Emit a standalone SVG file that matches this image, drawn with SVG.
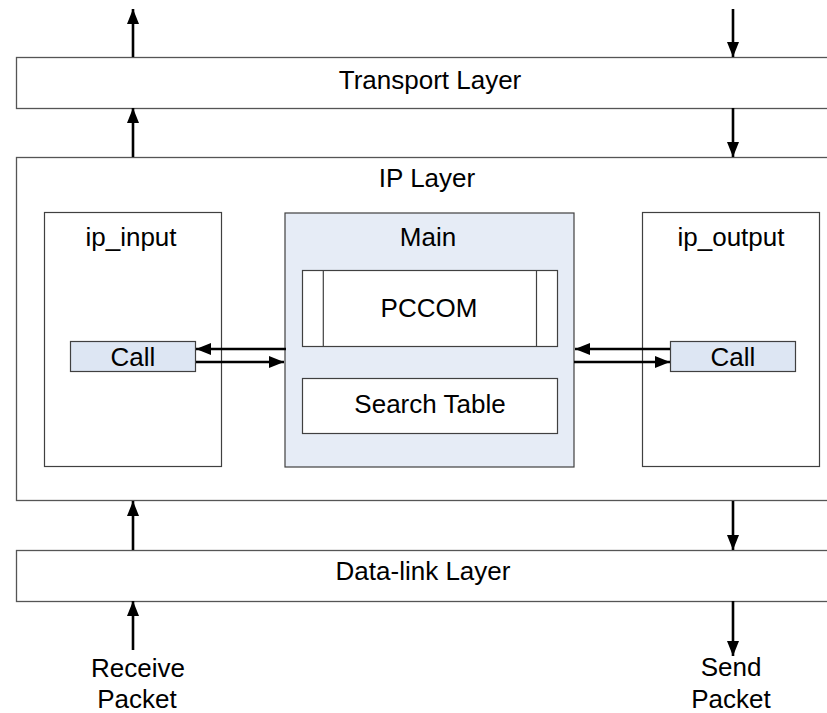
<svg xmlns="http://www.w3.org/2000/svg" width="827" height="713" viewBox="0 0 827 713">
<defs>
<style>
.layer{fill:#ffffff;stroke:#555555;stroke-width:1.3}
.box{fill:#ffffff;stroke:#404040;stroke-width:1.2}
.main{fill:#e6ecf6;stroke:#404040;stroke-width:1.2}
.call{fill:#dde6f3;stroke:#404040;stroke-width:1.2}
.inner{fill:none;stroke:#404040;stroke-width:1.2}
text{font-family:"Liberation Sans",Arial,sans-serif;font-size:26px;fill:#000;text-anchor:middle}
.conn line{stroke:#000;stroke-width:2.6;marker-end:url(#ah)}
</style>
<marker id="ah" markerUnits="userSpaceOnUse" markerWidth="15" markerHeight="12" refX="15" refY="6" orient="auto">
<path d="M0,0 L15,6 L0,12 Z" fill="#000"/>
</marker>
</defs>
<g id="transport">
<rect class="layer" x="16.5" y="57.5" width="820" height="51"/>
<text x="430" y="89">Transport Layer</text>
</g>
<g id="ip-layer">
<rect class="layer" x="16.5" y="157.5" width="820" height="343"/>
<text x="427" y="187">IP Layer</text>
</g>
<g id="ip_input">
<rect class="box" x="44.5" y="212.5" width="177" height="254"/>
<text x="131" y="246">ip_input</text>
</g>
<g id="main">
<rect class="main" x="285" y="213" width="289" height="254"/>
<text x="428" y="246">Main</text>
</g>
<g id="pccom">
<rect class="box" x="302.5" y="270.5" width="255" height="76"/>
<line class="inner" x1="323.3" y1="270.5" x2="323.3" y2="346.5"/>
<line class="inner" x1="536.5" y1="270.5" x2="536.5" y2="346.5"/>
<text x="429" y="317">PCCOM</text>
</g>
<g id="search-table">
<rect class="box" x="302.5" y="378.5" width="255" height="55"/>
<text x="430" y="413">Search Table</text>
</g>
<g id="ip_output">
<rect class="box" x="642.5" y="212.5" width="177" height="254"/>
<text x="731" y="246">ip_output</text>
</g>
<g id="call-in">
<rect class="call" x="70.5" y="341.5" width="125" height="30"/>
<text x="133" y="366">Call</text>
</g>
<g id="call-out">
<rect class="call" x="670.5" y="341.5" width="125" height="30"/>
<text x="733" y="366">Call</text>
</g>
<g id="datalink">
<rect class="layer" x="16.5" y="550.5" width="820" height="51"/>
<text x="423" y="580">Data-link Layer</text>
</g>
<g id="receive-label">
<text x="138" y="677">Receive</text>
<text x="137" y="708">Packet</text>
</g>
<g id="send-label">
<text x="731" y="676">Send</text>
<text x="731" y="708">Packet</text>
</g>
<g id="connectors" class="conn">
<line x1="133" y1="57" x2="133" y2="9"/>
<line x1="733" y1="9" x2="733" y2="57"/>
<line x1="133" y1="157" x2="133" y2="108"/>
<line x1="733" y1="108" x2="733" y2="157"/>
<line x1="133" y1="550" x2="133" y2="501"/>
<line x1="733" y1="501" x2="733" y2="550"/>
<line x1="133" y1="650" x2="133" y2="601"/>
<line x1="733" y1="601" x2="733" y2="656"/>
<line x1="286" y1="349" x2="196" y2="349"/>
<line x1="196" y1="362" x2="284" y2="362"/>
<line x1="670" y1="349" x2="575" y2="349"/>
<line x1="574" y1="362" x2="670" y2="362"/>
</g>
</svg>
